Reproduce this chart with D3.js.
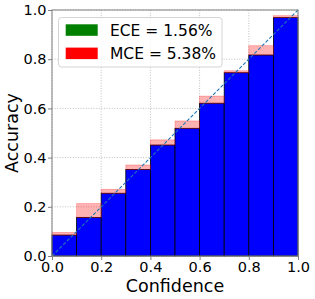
<!DOCTYPE html>
<html>
<head>
<meta charset="utf-8">
<script src="https://cdn.jsdelivr.net/npm/d3@7"></script>
<style>
html,body{margin:0;padding:0;background:#fff;}
svg{display:block;font-family:"DejaVu Sans",sans-serif;}
</style>
</head>
<body>
<svg id="chart" width="315" height="299"></svg>
<script>
// Data
const binLower = [0.0, 0.1, 0.2, 0.3, 0.4, 0.5, 0.6, 0.7, 0.8, 0.9];
const accuracy = [0.085, 0.157, 0.255, 0.352, 0.451, 0.519, 0.621, 0.745, 0.817, 0.969];
const confidence = [0.096, 0.213, 0.271, 0.370, 0.472, 0.549, 0.650, 0.753, 0.855, 0.977];
const ticks = [0.0, 0.2, 0.4, 0.6, 0.8, 1.0];
const legendLabels = ["ECE = 1.56%", "MCE = 5.38%"];
const legendColors = ["#008000", "#ff0000"];
const binWidth = 0.1;

const svg = d3.select("#chart");
const L = 52, R = 298, T = 10, B = 256;
const x = d3.scaleLinear().domain([0, 1]).range([L, R]);
const y = d3.scaleLinear().domain([0, 1]).range([B, T]);

// grid
const grid = svg.append("g");
ticks.forEach(t => {
  grid.append("line").attr("x1", x(t)).attr("x2", x(t)).attr("y1", T).attr("y2", B)
    .attr("stroke", "#b0b0b0").attr("stroke-width", 0.8).attr("stroke-dasharray", "1,1.6");
  grid.append("line").attr("y1", y(t)).attr("y2", y(t)).attr("x1", L).attr("x2", R)
    .attr("stroke", "#b0b0b0").attr("stroke-width", 0.8).attr("stroke-dasharray", "1,1.6");
});

// accuracy bars
svg.append("g").selectAll("rect").data(binLower).join("rect")
  .attr("x", d => x(d))
  .attr("width", d => x(d + binWidth) - x(d))
  .attr("y", (d, i) => y(accuracy[i]))
  .attr("height", (d, i) => y(0) - y(accuracy[i]))
  .attr("fill", "#0000ff")
  .attr("stroke", "#000")
  .attr("stroke-width", 0.8);

// gap bars
svg.append("g").selectAll("rect").data(binLower).join("rect")
  .attr("x", d => x(d))
  .attr("width", d => x(d + binWidth) - x(d))
  .attr("y", (d, i) => y(Math.max(accuracy[i], confidence[i])))
  .attr("height", (d, i) => Math.abs(y(accuracy[i]) - y(confidence[i])))
  .attr("fill", "#ff0000").attr("fill-opacity", 0.3)
  .attr("stroke", "#ff0000").attr("stroke-opacity", 0.3).attr("stroke-width", 0.8);

// diagonal
svg.append("line").attr("x1", x(0)).attr("y1", y(0)).attr("x2", x(1)).attr("y2", y(1))
  .attr("stroke", "#1f77b4").attr("stroke-width", 1.1).attr("stroke-dasharray", "3.5,1.8");

// spines
svg.append("rect").attr("x", L).attr("y", T).attr("width", R - L).attr("height", B - T)
  .attr("fill", "none").attr("stroke", "#808080").attr("stroke-width", 1);

// axes
const fmt = d3.format(".1f");
const xAxis = svg.append("g").attr("transform", `translate(0,${B})`)
  .call(d3.axisBottom(x).tickValues(ticks).tickFormat(fmt).tickSize(4).tickPadding(1.5));
const yAxis = svg.append("g").attr("transform", `translate(${L},0)`)
  .call(d3.axisLeft(y).tickValues(ticks).tickFormat(fmt).tickSize(4).tickPadding(1.5));
[xAxis, yAxis].forEach(a => {
  a.select(".domain").remove();
  a.selectAll(".tick line").attr("stroke", "#808080");
  a.selectAll(".tick text").attr("font-family", "DejaVu Sans").attr("font-size", "14.5px").attr("fill", "#000");
});

// axis labels
svg.append("text").attr("x", (L + R) / 2).attr("y", 291.5).attr("text-anchor", "middle")
  .attr("font-size", "17.5px").attr("fill", "#000").text("Confidence");
svg.append("text").attr("transform", `translate(18,${(T + B) / 2}) rotate(-90)`)
  .attr("text-anchor", "middle").attr("font-size", "17.5px").attr("fill", "#000").text("Accuracy");

// legend
const lg = svg.append("g");
lg.append("rect").attr("x", 58.5).attr("y", 17.5).attr("width", 163.5).attr("height", 49.5)
  .attr("rx", 3).attr("fill", "#fff").attr("fill-opacity", 0.8).attr("stroke", "#d4d4d4").attr("stroke-width", 1);
legendLabels.forEach((lab, i) => {
  const yy = 24.3 + i * 23.3;
  lg.append("rect").attr("x", 65.7).attr("y", yy).attr("width", 32).attr("height", 11.5)
    .attr("fill", legendColors[i]);
  lg.append("text").attr("x", 110).attr("y", yy + 11.6).attr("font-size", "15.5px").attr("fill", "#000").text(lab);
});
</script>
</body>
</html>
